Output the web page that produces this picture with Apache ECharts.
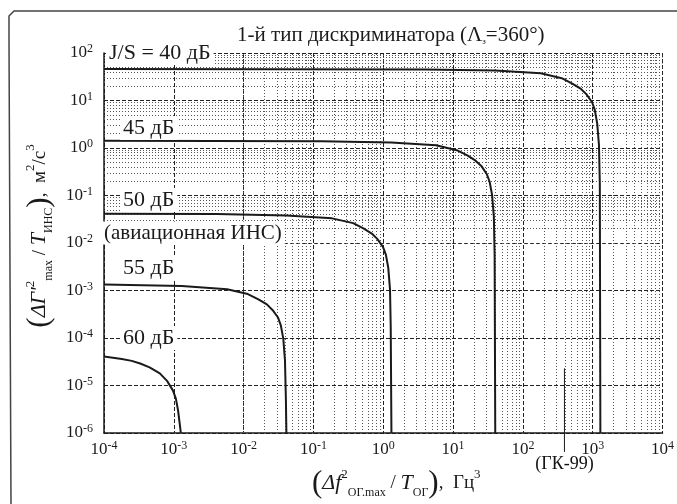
<!DOCTYPE html>
<html><head><meta charset="utf-8">
<script src="https://cdn.jsdelivr.net/npm/echarts@6/dist/echarts.min.js"></script>
<style>html,body{margin:0;padding:0;background:#fff}#c{width:677px;height:504px}</style>
</head><body><div id="c"></div>
<script>
// ---- data ----
const xExponents = [-4, -3, -2, -1, 0, 1, 2, 3, 4];
const yExponents = [-6, -5, -4, -3, -2, -1, 0, 1, 2];
const minorMultipliers = [2, 3, 4, 5, 6, 7, 8, 9];
const curveLabels = ['J/S = 40 дБ', '45 дБ', '50 дБ', '55 дБ', '60 дБ'];
const noteINS = '(авиационная ИНС)';
const curve40 = [[1e-4,46],[4,45],[40,43],[180,37.5],[360,29.5],[510,22.6],[680,17.5],[810,13.6],[980,9.2],[1070,6.4],[1160,3.3],[1230,1.16],[1265,0.18],[1288,1e-6]];
const curve45 = [[1e-4,1.42],[0.13,1.38],[1.3,1.3],[5.7,1.14],[11.3,0.9],[16,0.7],[21,0.54],[25.4,0.42],[30.5,0.28],[33.4,0.195],[36.2,0.103],[38.4,0.036],[39.4,0.0056],[40.2,1e-6]];
const curve50 = [[1e-4,0.0415],[0.0041,0.0406],[0.041,0.0378],[0.185,0.033],[0.37,0.0262],[0.52,0.0203],[0.685,0.0158],[0.82,0.0122],[0.99,0.0083],[1.09,0.0057],[1.18,0.003],[1.25,0.00104],[1.28,1.65e-4],[1.31,1e-6]];
const curve55 = [[1e-4,1.34e-3],[1.3e-3,1.24e-3],[5.8e-3,1.06e-3],[0.0115,8.4e-4],[0.0163,6.5e-4],[0.0215,5.1e-4],[0.0259,3.9e-4],[0.0311,2.7e-4],[0.0341,1.85e-4],[0.037,9.7e-5],[0.0391,3.4e-5],[0.0403,5.3e-6],[0.041,1e-6]];
const curve60 = [[1e-4,4.1e-5],[1.8e-4,3.6e-5],[2.5e-4,3.3e-5],[3.3e-4,2.9e-5],[4.5e-4,2.4e-5],[6.3e-4,1.8e-5],[8e-4,1.25e-5],[9.7e-4,7.9e-6],[1.07e-3,5.3e-6],[1.15e-3,3e-6],[1.22e-3,1.5e-6],[1.26e-3,1e-6]];
const gk99Line = [[394, 2.3e-5], [394, 4e-7]];
const gk99Label = '(ГК-99)';

// ---- chart ----
const FONT = "'Liberation Serif','DejaVu Serif',serif";
const INK = '#1a1a1a';
function powLabel(v) {
  const e = Math.round(Math.log10(v));
  return '{b|10}{s|' + e + '}';
}
const tickRich = {
  b: { fontSize: 17, fontFamily: FONT, color: INK, lineHeight: 20 },
  s: { fontSize: 12, fontFamily: FONT, color: INK, lineHeight: 11, verticalAlign: 'top' }
};
function minorValues(exps) {
  const out = [];
  exps.slice(0, -1).forEach(e => minorMultipliers.forEach(m => out.push(m * Math.pow(10, e))));
  return out;
}
const minorX = minorValues(xExponents);
const minorY = minorValues(yExponents);
const nameRich = {
  p: { fontSize: 31, fontFamily: FONT, color: INK },
  i: { fontSize: 22, fontFamily: FONT, fontStyle: 'italic', color: INK },
  n: { fontSize: 19, fontFamily: FONT, color: INK },
  sup: { fontSize: 13, fontFamily: FONT, color: INK, lineHeight: 13, verticalAlign: 'top' },
  sub: { fontSize: 12, fontFamily: FONT, color: INK, lineHeight: 13, verticalAlign: 'bottom' }
};
const curves = [curve40, curve45, curve50, curve55, curve60];
const curveSeries = curves.map((d, k) => ({
  name: curveLabels[k], type: 'line', data: d, showSymbol: false, symbol: 'none',
  lineStyle: { color: INK, width: 2 }, silent: true, z: 5
}));
const labelPos = [[106, 53], [120, 128], [120, 200], [120, 268], [120, 338]];
const textStyleBase = { fontSize: 22, fontFamily: FONT, fill: INK, backgroundColor: '#fff', padding: [1, 3, 1, 3], verticalAlign: 'middle' };

const option = {
  animation: false,
  backgroundColor: '#fff',
  grid: { left: 104, right: 14, top: 53, bottom: 71 },
  title: {
    text: '{n|1-й тип дискриминатора (Λ}{sub|з}{n|=360°)}',
    left: 232, top: 20,
    textStyle: { fontWeight: 'normal', rich: {
      n: { fontSize: 21, fontFamily: FONT, color: INK, fontWeight: 'normal' },
      sub: { fontSize: 9, fontFamily: FONT, color: INK, lineHeight: 10, verticalAlign: 'bottom', fontWeight: 'normal' }
    } }
  },
  xAxis: {
    type: 'log', logBase: 10, min: 1e-4, max: 1e4, interval: 1,
    axisLine: { show: true, lineStyle: { color: INK, width: 1.5 } },
    axisTick: { show: false },
    axisLabel: { formatter: powLabel, rich: tickRich, margin: 7 },
    splitLine: { show: true, lineStyle: { color: '#222', type: [4, 2], width: 1 } },
    name: '{p|(}{i|Δf}{sup|2}{sub|ОГ.max}{n| / }{i|T}{sub|ОГ}{p|)}{n|,  Гц}{sup|3}',
    nameLocation: 'middle', nameGap: 35,
    nameTextStyle: { rich: nameRich, padding: [0, 0, 0, 26] }
  },
  yAxis: {
    type: 'log', logBase: 10, min: 1e-6, max: 1e2, interval: 1,
    axisLine: { show: true, lineStyle: { color: INK, width: 1.5 } },
    axisTick: { show: false },
    axisLabel: { formatter: powLabel, rich: tickRich, margin: 11 },
    splitLine: { show: true, lineStyle: { color: '#222', type: [4, 2], width: 1 } },
    name: '{p|(}{i|ΔΓ\'}{sup|2}{sub|max}{n| / }{i|T}{sub|ИНС}{p|)}{n|,  м}{sup|2}{n|/с}{sup|3}',
    nameLocation: 'middle', nameGap: 47, nameRotate: 90,
    nameTextStyle: { rich: nameRich, padding: [0, 0, 0, 14] }
  },
  series: [
    {
      type: 'line', data: [], silent: true, z: 1,
      markLine: {
        silent: true, symbol: 'none', animation: false,
        label: { show: false },
        lineStyle: { color: '#555', type: [1, 2], width: 1 },
        data: minorX.map(v => ({ xAxis: v })).concat(minorY.map(v => ({ yAxis: v })))
      }
    },
    ...curveSeries,
    {
      type: 'line', data: gk99Line, showSymbol: false, symbol: 'none', clip: false, silent: true,
      lineStyle: { color: INK, width: 1 }
    },
    {
      type: 'scatter', data: [gk99Line[1]], clip: false, silent: true, symbolSize: 0,
      itemStyle: { color: INK },
      label: { show: true, position: 'bottom', distance: 3, formatter: gk99Label,
        fontSize: 18, fontFamily: FONT, color: '#111', opacity: 1 }
    }
  ],
  graphic: [
    { type: 'polyline', silent: true, shape: { points: [[11, 504], [9, 40], [9, 16], [14, 11], [677, 11]] },
      style: { stroke: '#444', lineWidth: 1.5, fill: null } }
  ].concat(curveLabels.map((t, k) => ({
    type: 'text', silent: true, x: labelPos[k][0], y: labelPos[k][1], z: 20,
    style: Object.assign({ text: t }, textStyleBase)
  }))).concat([{
    type: 'text', silent: true, x: 101, y: 233, z: 20,
    style: Object.assign({ text: noteINS }, textStyleBase, { fontSize: 21 })
  }])
};
const chart = echarts.init(document.getElementById('c'), null, { renderer: 'canvas' });
chart.setOption(option);
</script>
</body></html>
